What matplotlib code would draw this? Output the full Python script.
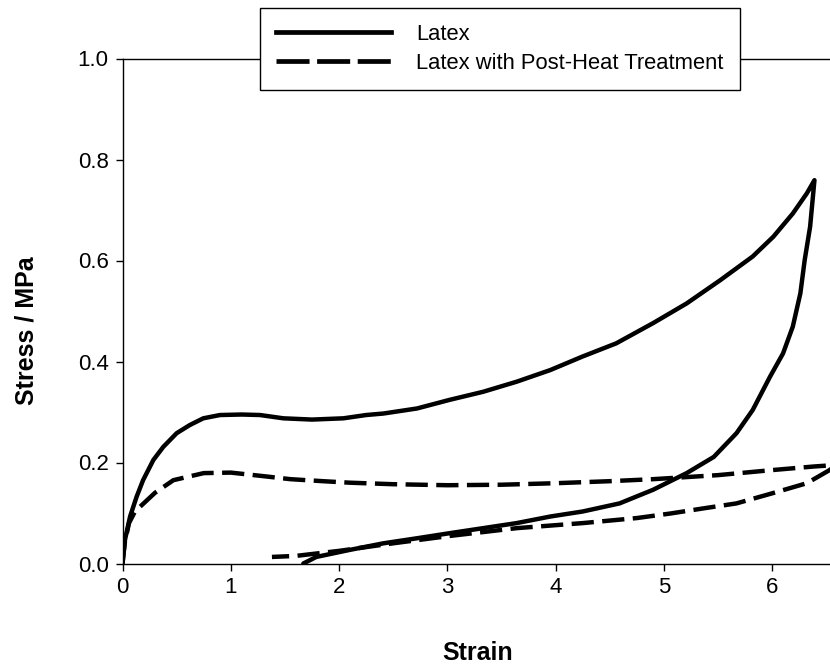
import matplotlib
matplotlib.use("Agg")
import matplotlib.pyplot as plt
from matplotlib.lines import Line2D

plt.rcParams['font.family'] = ['Liberation Sans', 'DejaVu Sans']

# Latex: loading then unloading
latex_strain = [0, 0.023, 0.07, 0.13, 0.19, 0.285, 0.377, 0.5, 0.62, 0.746, 0.9, 1.1, 1.27,
                1.485, 1.75, 2.04, 2.25, 2.41, 2.72, 3.02, 3.33, 3.64, 3.95, 4.25, 4.56, 4.9,
                5.21, 5.52, 5.82, 6.01, 6.19, 6.32, 6.39,
                6.35, 6.30, 6.26, 6.19, 6.10, 5.98, 5.82, 5.67, 5.46, 5.21, 4.90, 4.59, 4.25,
                3.95, 3.64, 3.33, 3.02, 2.72, 2.41, 2.10, 1.79, 1.67]
latex_stress = [0, 0.047, 0.093, 0.132, 0.165, 0.205, 0.231, 0.258, 0.274, 0.2875, 0.294, 0.295, 0.294,
                0.2875, 0.285, 0.2875, 0.294, 0.297, 0.307, 0.324, 0.340, 0.36, 0.383, 0.41, 0.436, 0.476,
                0.515, 0.561, 0.608, 0.647, 0.693, 0.733, 0.759,
                0.667, 0.601, 0.535, 0.469, 0.416, 0.37, 0.304, 0.258, 0.211, 0.179, 0.146, 0.119, 0.103,
                0.093, 0.08, 0.07, 0.06, 0.05, 0.04, 0.027, 0.013, 0.0]

# Latex with post-heat treatment: loading then unloading
heat_strain = [0, 0.02, 0.06, 0.12, 0.16, 0.25, 0.3, 0.47, 0.75, 1.0, 1.3, 1.55, 1.85, 2.1, 2.5,
               3.0, 3.5, 4.0, 4.5, 4.9, 5.5, 6.0, 6.38, 6.58,
               6.53, 6.32, 6.0, 5.67, 5.36, 5.06, 4.75, 4.25, 3.64, 3.0, 2.5, 2.0, 1.6, 1.38]
heat_stress = [0, 0.04, 0.08, 0.105, 0.112, 0.13, 0.14, 0.165, 0.179, 0.18, 0.173, 0.167, 0.163, 0.16, 0.157,
               0.155, 0.156, 0.159, 0.163, 0.167, 0.175, 0.185, 0.192, 0.195,
               0.185, 0.159, 0.139, 0.119, 0.109, 0.099, 0.09, 0.08, 0.07, 0.054, 0.04, 0.025, 0.015, 0.013]

x_ticks = [0, 1, 2, 3, 4, 5, 6]
y_ticks = [0.0, 0.2, 0.4, 0.6, 0.8, 1.0]
series_names = ["Latex", "Latex with Post-Heat Treatment"]

W, H = 830, 665
fig = plt.figure(figsize=(W / 100, H / 100), dpi=100)
ax = fig.add_axes([122.5 / W, (H - 563.5) / H, 758 / W, 505 / H])

ax.plot(latex_strain, latex_stress, color='black', lw=3.2, solid_capstyle='round',
        solid_joinstyle='round')
ax.plot(heat_strain, heat_stress, color='black', lw=3.2, linestyle=(0, (5.0, 1.9)))

ax.set_xlim(0, 7)
ax.set_ylim(0, 1.0)
ax.set_xticks(x_ticks)
ax.set_xticklabels([str(t) for t in x_ticks])
ax.set_yticks(y_ticks)
ax.set_yticklabels([f"{t:.1f}" for t in y_ticks])
ax.tick_params(direction='out', length=5, width=1, labelsize=16, pad=5, colors='black')
for s in ax.spines.values():
    s.set_linewidth(1.0)
    s.set_color('black')

ax.set_xlabel("Strain", fontsize=18, fontweight='bold')
ax.xaxis.set_label_coords((478 - 122.5) / 758, -77 / 505)
ax.xaxis.label.set_verticalalignment('top')
ax.set_ylabel("Stress / MPa", fontsize=18, fontweight='bold')
ax.yaxis.set_label_coords((38 - 122.5) / 758, (563.5 - 331) / 505)

handles = [Line2D([], [], color='black', lw=3.4),
           Line2D([], [], color='black', lw=3.4, linestyle=(0, (7.0, 1.6)))]
leg = fig.legend(handles, series_names, loc='upper left',
                 bbox_to_anchor=(260 / W, 1 - 8 / H), bbox_transform=fig.transFigure,
                 fontsize=15.8, handlelength=5.27, handletextpad=1.14, borderpad=0.72,
                 labelspacing=0.36, fancybox=False, framealpha=1, edgecolor='black',
                 borderaxespad=0)
leg.get_frame().set_linewidth(1.0)

fig.savefig("out.png", dpi=100)
